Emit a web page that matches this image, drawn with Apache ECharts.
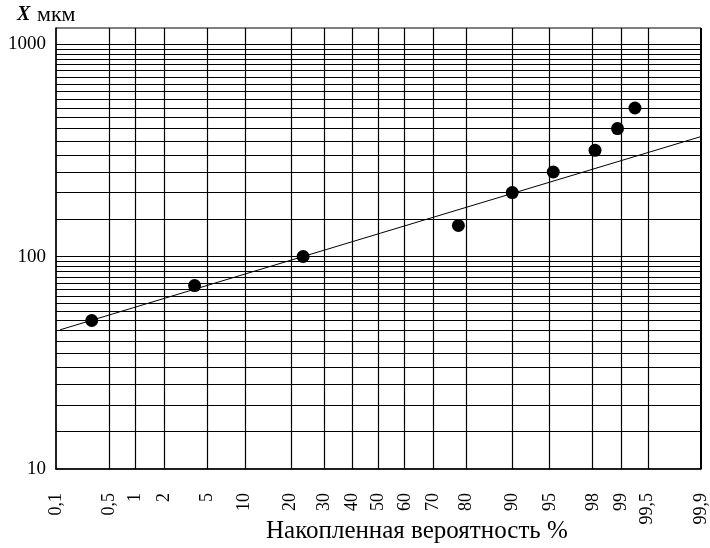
<!DOCTYPE html>
<html><head><meta charset="utf-8">
<script src="https://cdn.jsdelivr.net/npm/echarts@6/dist/echarts.min.js"></script>
<style>html,body{margin:0;padding:0;background:#fff}#c{width:710px;height:548px}</style>
</head><body><div id="c"></div>
<script>
// ---- data ----
const probTicks = [0.1, 0.5, 1, 2, 5, 10, 20, 30, 40, 50, 60, 70, 80, 90, 95, 98, 99, 99.5, 99.9];
const probTickLabels = ['0,1', '0,5', '1', '2', '5', '10', '20', '30', '40', '50', '60', '70', '80', '90', '95', '98', '99', '99,5', '99,9'];
const yLabelValues = [10, 100, 1000];
const yMajorLines = [100, 1000];
const yMinorLines = [15, 20, 25, 30, 35, 40, 45, 50, 55, 60, 65, 70, 75, 80, 85, 90, 95,
                     150, 200, 250, 300, 350, 400, 450, 500, 550, 600, 650, 700, 750, 800, 850, 900, 950];
const pointProb = [0.3, 3.9, 23.5, 77.8, 90, 95.3, 98.1, 98.9, 99.3];
const pointSize = [50, 73, 100, 140, 200, 250, 316, 400, 500];
const fitProb = [0.114, 99.9];
const fitSize = [45.2, 367];

// inverse normal CDF (probability paper scale), input in percent
function probit(pct) {
  const p = pct / 100;
  const a = [-3.969683028665376e+01, 2.209460984245205e+02, -2.759285104469687e+02, 1.383577518672690e+02, -3.066479806614716e+01, 2.506628277459239e+00];
  const b = [-5.447609879822406e+01, 1.615858368580409e+02, -1.556989798598866e+02, 6.680131188771972e+01, -1.328068155288572e+01];
  const c = [-7.784894002430293e-03, -3.223964580411365e-01, -2.400758277161838e+00, -2.549732539343734e+00, 4.374664141464968e+00, 2.938163982698783e+00];
  const d = [7.784695709041462e-03, 3.224671290700398e-01, 2.445134137142996e+00, 3.754408661907416e+00];
  const pl = 0.02425, ph = 1 - pl;
  let q, r;
  if (p < pl) {
    q = Math.sqrt(-2 * Math.log(p));
    return (((((c[0]*q+c[1])*q+c[2])*q+c[3])*q+c[4])*q+c[5]) / ((((d[0]*q+d[1])*q+d[2])*q+d[3])*q+1);
  }
  if (p <= ph) {
    q = p - 0.5; r = q * q;
    return (((((a[0]*r+a[1])*r+a[2])*r+a[3])*r+a[4])*r+a[5])*q / (((((b[0]*r+b[1])*r+b[2])*r+b[3])*r+b[4])*r+1);
  }
  q = Math.sqrt(-2 * Math.log(1 - p));
  return -(((((c[0]*q+c[1])*q+c[2])*q+c[3])*q+c[4])*q+c[5]) / ((((d[0]*q+d[1])*q+d[2])*q+d[3])*q+1);
}

const tickZ = probTicks.map(probit);
const FONT = '"Liberation Serif", "Times New Roman", serif';

function labelFor(v) {
  let best = 0, bd = Infinity;
  tickZ.forEach((z, i) => { const dd = Math.abs(z - v); if (dd < bd) { bd = dd; best = i; } });
  return bd < 1e-6 ? probTickLabels[best] : '';
}

const lineStyleGrid = { color: '#000', width: 1.2, type: 'solid' };
const vLines = tickZ.slice(1, -1).map(z => ({ xAxis: z, lineStyle: lineStyleGrid }));
vLines.push({ xAxis: tickZ[tickZ.length - 1], lineStyle: { color: '#000', width: 2, type: 'solid' } });
const hLines = yMajorLines.concat(yMinorLines).map(v => ({ yAxis: v, lineStyle: lineStyleGrid }));

const chart = echarts.init(document.getElementById('c'), null, { renderer: 'canvas' });
chart.setOption({
  animation: false,
  backgroundColor: '#fff',
  grid: { left: 56, right: 8, top: 28, bottom: 79, show: true, borderColor: '#000', borderWidth: 1, containLabel: false },
  xAxis: {
    type: 'value',
    min: tickZ[0],
    max: tickZ[tickZ.length - 1],
    axisLine: { show: true, onZero: false, lineStyle: { color: '#000', width: 1.5 } },
    axisTick: { show: false },
    splitLine: { show: false },
    axisLabel: {
      customValues: tickZ,
      formatter: v => labelFor(v),
      rotate: 90,
      margin: 24,
      color: '#000',
      fontFamily: FONT,
      fontSize: 18
    }
  },
  yAxis: {
    type: 'log',
    logBase: 10,
    min: 10,
    max: 1190,
    axisLine: { show: true, onZero: false, lineStyle: { color: '#000', width: 1.5 } },
    axisTick: { show: false },
    splitLine: { show: false },
    axisLabel: {
      formatter: v => (yLabelValues.some(t => Math.abs(t - v) < 1e-6) ? String(Math.round(v)) : ''),
      margin: 10,
      color: '#000',
      fontFamily: FONT,
      fontSize: 19
    }
  },
  graphic: [
    { type: 'text', left: 17, top: 5, style: { text: 'X', font: 'italic bold 20px ' + FONT, fill: '#000' } },
    { type: 'text', left: 37, top: 4, style: { text: 'мкм', font: '22px ' + FONT, fill: '#000' } },
    { type: 'text', left: 266, top: 519, style: { text: 'Накопленная вероятность %', font: '25px ' + FONT, fill: '#000' } }
  ],
  series: [
    {
      type: 'line',
      data: fitProb.map((p, i) => [probit(p), fitSize[i]]),
      showSymbol: false,
      symbol: 'none',
      silent: true,
      lineStyle: { color: '#000', width: 1 },
      markLine: {
        silent: true,
        symbol: ['none', 'none'],
        label: { show: false },
        emphasis: { disabled: true },
        animation: false,
        data: vLines.concat(hLines)
      },
      z: 2
    },
    {
      type: 'scatter',
      data: pointProb.map((p, i) => [probit(p), pointSize[i]]),
      symbol: 'circle',
      symbolSize: 13,
      itemStyle: { color: '#000', opacity: 1 },
      silent: true,
      z: 3
    }
  ]
});
</script>
</body></html>
